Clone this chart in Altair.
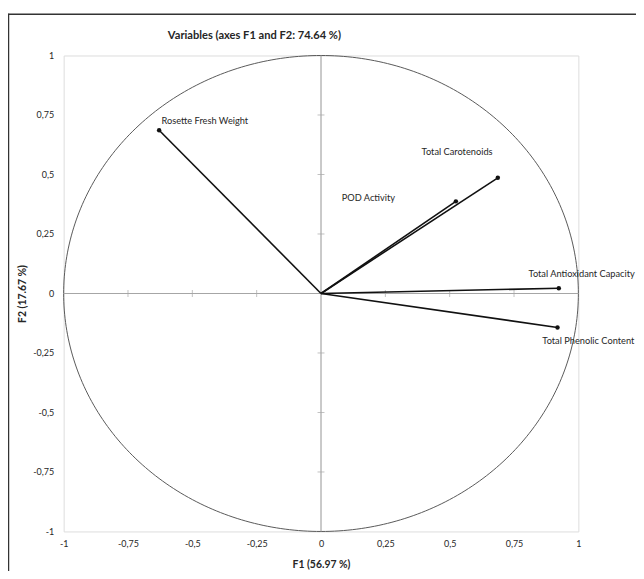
import altair as alt
import numpy as np
import pandas as pd

# ---- data ----
variables = ["Rosette Fresh Weight", "Total Carotenoids", "POD Activity",
             "Total Antioxidant Capacity", "Total Phenolic Content"]
f1 = [-0.629, 0.687, 0.524, 0.924, 0.919]
f2 = [0.686, 0.486, 0.387, 0.022, -0.143]
axis_values = [-1, -0.75, -0.5, -0.25, 0, 0.25, 0.5, 0.75, 1]
minor_ticks = [-0.75, -0.5, -0.25, 0.25, 0.5, 0.75]

# ---- label placement (style, pixels) ----
label_offsets = {
    "Rosette Fresh Weight": (46, -9),
    "Total Carotenoids": (-41, -26),
    "POD Activity": (-88, -3),
    "Total Antioxidant Capacity": (23, -14),
    "Total Phenolic Content": (31, 14),
}

W, H = 518, 479
FONT = "Lato"
TXT = "#262626"

vec = pd.DataFrame({"variable": variables, "F1": f1, "F2": f2,
                    "x0": [0.0] * len(f1), "y0": [0.0] * len(f1)})
theta = np.linspace(0, 2 * np.pi, 361)
circle = pd.DataFrame({"cx": np.cos(theta), "cy": np.sin(theta), "i": np.arange(361)})
ticks = pd.DataFrame({"t": minor_ticks})
one = pd.DataFrame({"a": [0]})

xs = alt.Scale(domain=[-1, 1], nice=False, zero=False)
ys = alt.Scale(domain=[-1, 1], nice=False, zero=False)
lab = "replace(toString(datum.value), '.', ',')"

x_axis = alt.Axis(values=axis_values, labelExpr=lab, ticks=False, domain=False, grid=False,
                  labelPadding=8, labelFontSize=9, labelColor=TXT, labelFont=FONT,
                  labelFlush=False, labelOverlap=False,
                  title="F1 (56.97 %)", titleFontSize=10.5, titleFontWeight="bold",
                  titleColor=TXT, titleFont=FONT, titlePadding=11)
y_axis = alt.Axis(values=axis_values, labelExpr=lab, ticks=False, domain=False, grid=False,
                  labelPadding=10, labelFontSize=9, labelColor=TXT, labelFont=FONT,
                  labelFlush=False, labelOverlap=False,
                  title="F2 (17.67 %)", titleFontSize=10.5, titleFontWeight="bold",
                  titleColor=TXT, titleFont=FONT, titlePadding=5)


def X(field):
    return alt.X(field, scale=xs, axis=x_axis)


def Y(field):
    return alt.Y(field, scale=ys, axis=y_axis)


circ = alt.Chart(circle).mark_line(color="#595959", strokeWidth=1).encode(
    x=X("cx:Q"), y=Y("cy:Q"), order="i:Q")

zero_v = alt.Chart(one).mark_rule(color="#a6a6a6", strokeWidth=1.2).encode(
    x=alt.datum(0, scale=xs, axis=x_axis))
zero_h = alt.Chart(one).mark_rule(color="#a6a6a6", strokeWidth=1.2).encode(
    y=alt.datum(0, scale=ys, axis=y_axis))

tick_x = alt.Chart(ticks).mark_tick(orient="vertical", size=7, thickness=1, color="#a6a6a6").encode(
    x=X("t:Q"), y=alt.datum(0, scale=ys, axis=y_axis))
tick_y = alt.Chart(ticks).mark_tick(orient="horizontal", size=7, thickness=1, color="#a6a6a6").encode(
    y=Y("t:Q"), x=alt.datum(0, scale=xs, axis=x_axis))

vectors = alt.Chart(vec).mark_rule(color="#111111", strokeWidth=1.6).encode(
    x=X("x0:Q"), y=Y("y0:Q"), x2="F1:Q", y2="F2:Q")
points = alt.Chart(vec).mark_circle(color="#111111", size=20, opacity=1).encode(
    x=X("F1:Q"), y=Y("F2:Q"))

labels = []
for name in variables:
    dx, dy = label_offsets[name]
    labels.append(
        alt.Chart(vec).transform_filter(alt.datum.variable == name)
        .mark_text(dx=dx, dy=dy, align="center", baseline="middle",
                   fontSize=9.3, font=FONT, color=TXT)
        .encode(x=X("F1:Q"), y=Y("F2:Q"), text="variable:N")
    )

border_left = alt.Chart(one).mark_rule(color="#333333", strokeWidth=1.5).encode(
    x=alt.value(-55.5), y=alt.value(-42), y2=alt.value(620))
border_top = alt.Chart(one).mark_rule(color="#333333", strokeWidth=1.5).encode(
    x=alt.value(-56), x2=alt.value(700), y=alt.value(-41.5))

chart = alt.layer(
    circ, zero_v, zero_h, tick_x, tick_y, vectors, points, *labels, border_left, border_top
).properties(
    width=W, height=H,
    autosize=alt.AutoSizeParams(type="none"),
    padding={"left": 56, "top": 46, "right": 58, "bottom": 38},
    title=alt.TitleParams("Variables (axes F1 and F2: 74.64 %)", anchor="middle", dx=-67,
                          frame="group", offset=-28, fontSize=11.2, fontWeight="bold",
                          color=TXT, font=FONT),
).configure_view(stroke="#a6a6a6", strokeWidth=1.5).configure(background="white")

chart.save("out.html", embed_options={"renderer": "svg", "actions": False})
